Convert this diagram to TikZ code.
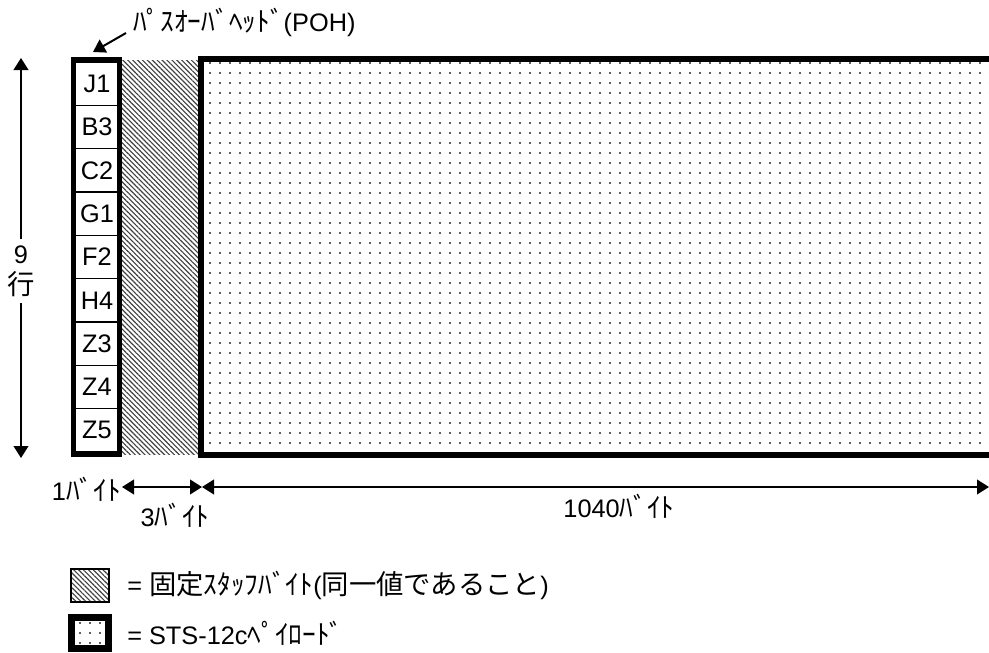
\documentclass[tikz,border=0pt]{standalone}
\usepackage{fontspec}
\setmainfont{Liberation Sans}
\newfontfamily\jp[Scale=1.08]{Noto Sans CJK JP}
\usetikzlibrary{patterns.meta,arrows.meta}
\begin{document}
\begin{tikzpicture}[x=0.75pt,y=-0.75pt,
  lbl/.style={font=\fontsize{19}{20}\selectfont, inner sep=0pt},
  hatch/.style={pattern={Lines[angle=-45,distance=2.6pt,line width=0.85pt]}, pattern color=black!75},
  dotfill/.style={pattern={Dots[radius=0.85pt,distance=7.5pt]}, pattern color=black!85},
  arr/.style={-{Triangle[length=9pt,width=11pt]}, line width=1.5pt},
  darr/.style={{Triangle[length=9pt,width=11pt]}-{Triangle[length=9pt,width=11pt]}, line width=1.5pt}]
\useasboundingbox (0,0) rectangle (989,653);

% stuff bytes (hatched)
\fill[hatch] (120,60) rectangle (201,454);
% payload
\fill[dotfill] (201,59) rectangle (995,455);
\draw[line width=4.5pt] (995,59) -- (201,59) -- (201,455) -- (995,455);

% POH rows
\foreach \t [count=\i] in {J1,B3,C2,G1,F2,H4,Z3,Z4,Z5} {
  \node[draw, line width=0.9pt, minimum width=34.5pt, minimum height=32.5pt, inner sep=0pt,
        font=\fontsize{19}{20}\selectfont] (r\i) at (97,{62+43.33*(\i-0.5)}) {\t};
}
\draw[line width=3.75pt] (73.5,59.5) rectangle (119.5,454.5);

% POH label
\node[lbl, anchor=west] (poh) at (133,22) {{\jp ﾊﾟｽｵｰﾊﾞﾍｯﾄﾞ}(POH)};
\coordinate (pohtail) at (126,33);
\coordinate (pohtip) at (93,52);
\draw[arr] (pohtail) -- (pohtip);

% 9 rows
\node[lbl, align=center, inner sep=5pt] (nine) at (21,271) {9\\[3pt]{\jp 行}};
\coordinate (vt) at (21,58);
\coordinate (vb) at (21,458);
\draw[arr] (nine) -- (vt);
\draw[arr] (nine) -- (vb);

% byte arrows
\coordinate (b1) at (122,487);
\coordinate (b2) at (202,487);
\coordinate (b3) at (989,487);
\draw[darr] (b1) -- (b2);
\draw[darr] (b2) -- (b3);
\node[lbl, anchor=east] (one) at (121,489) {1{\jp ﾊﾞｲﾄ}};
\node[lbl] (three) at (175,515) {3{\jp ﾊﾞｲﾄ}};
\node[lbl] (big) at (619,506) {1040{\jp ﾊﾞｲﾄ}};

% legend
\draw[hatch] (71,569) rectangle (109,602);
\draw[line width=0.9pt] (71,569) rectangle (109,602);
\fill[dotfill] (71.5,617.5) rectangle (108.5,648.5);
\draw[line width=5.25pt] (71.5,617.5) rectangle (108.5,648.5);
\node[lbl, anchor=west] (leg1) at (127,585) {= {\jp 固定ｽﾀｯﾌﾊﾞｲﾄ}({\jp 同一値であること})};
\node[lbl, anchor=west] (leg2) at (127,633) {= STS-12c{\jp ﾍﾟｲﾛｰﾄﾞ}};
\end{tikzpicture}
\end{document}
